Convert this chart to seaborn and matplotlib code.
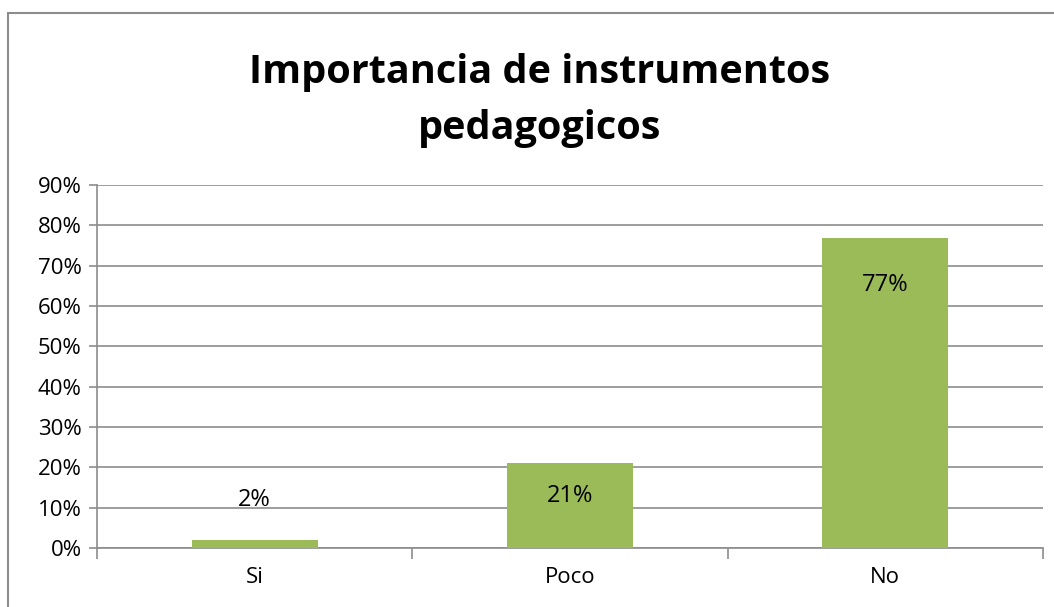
import matplotlib
matplotlib.use("Agg")
import matplotlib.pyplot as plt
import matplotlib.patches as mpatches
import pandas as pd
import seaborn as sns

categories = ["Si", "Poco", "No"]
values = [2, 21, 77]
value_labels = ["2%", "21%", "77%"]
y_ticks = [0, 10, 20, 30, 40, 50, 60, 70, 80, 90]

df = pd.DataFrame({"respuesta": categories, "pct": values})

sns.set_theme(style="white")
plt.rcParams["font.family"] = ["Open Sans", "DejaVu Sans"]
plt.rcParams["text.color"] = "black"
plt.rcParams["xtick.color"] = "black"
plt.rcParams["ytick.color"] = "black"

fig = plt.figure(figsize=(10.54, 6.07), dpi=100)
ax = fig.add_axes([0.092, 0.0972, 0.8976, 0.5978])

sns.barplot(data=df, x="respuesta", y="pct", color="#9BBB59", width=0.4,
            saturation=1, ax=ax, zorder=3, edgecolor="none")

# label offsets in pixels relative to bar top
offsets = [40, -33, -47]
for i, (v, lab) in enumerate(zip(values, value_labels)):
    ax.annotate(lab, (i, v), xytext=(0, offsets[i]), textcoords="offset pixels",
                ha="center", va="center", fontsize=17, color="black")

ax.set_ylim(0, 90)
ax.set_xlim(-0.5, 2.5)
ax.set_yticks(y_ticks)
ax.set_yticklabels([f"{t}%" for t in y_ticks], fontsize=16)
ax.yaxis.grid(True, color="#8c8c8c", linewidth=1.2, zorder=0)
ax.set_axisbelow(True)
ax.tick_params(axis="y", length=6, color="#8c8c8c", width=1.2, left=True, pad=5,
               labelcolor="black")
ax.tick_params(axis="x", length=0, labelsize=16, pad=14, labelcolor="black")
ax.set_xticks([-0.5, 0.5, 1.5, 2.5], minor=True)
ax.tick_params(axis="x", which="minor", length=8, color="#8c8c8c", width=1.2, bottom=True)
ax.set_xlabel("")
ax.set_ylabel("")
for s in ["top", "right"]:
    ax.spines[s].set_visible(False)
for s in ["left", "bottom"]:
    ax.spines[s].set_color("#8c8c8c")
    ax.spines[s].set_linewidth(1.2)

fig.text(0.512, 0.835, "Importancia de instrumentos\npedagogicos", ha="center", va="center",
         fontsize=28.5, fontweight="bold", linespacing=1.57, color="black")

border = mpatches.Rectangle((0.008, -0.02), 1.1, 1 - 13 / 607 + 0.02, transform=fig.transFigure,
                            fill=False, edgecolor="#8c8c8c", linewidth=1.5)
fig.patches.append(border)

fig.savefig("out.png", dpi=100)
